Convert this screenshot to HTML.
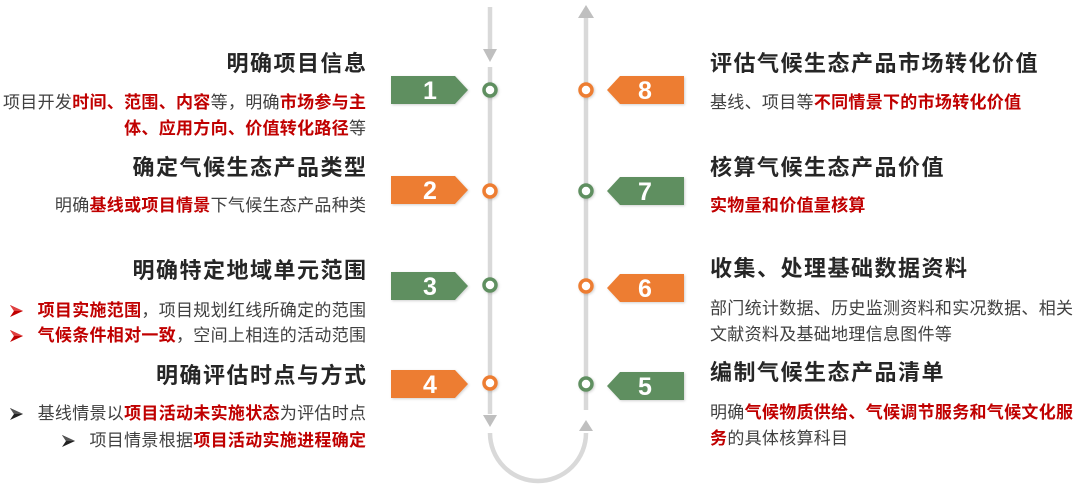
<!DOCTYPE html>
<html><head><meta charset="utf-8">
<style>
html,body{margin:0;padding:0;background:#fff;}
#c{position:relative;width:1080px;height:492px;overflow:hidden;background:#fff;}
svg.bg{position:absolute;left:0;top:0;}
.t{position:absolute;font-family:"Liberation Sans","Noto Sans CJK SC",sans-serif;font-weight:bold;font-size:22px;letter-spacing:1.5px;line-height:30px;color:#262626;white-space:nowrap;}
.d{position:absolute;font-family:"Liberation Sans","Noto Sans CJK SC",sans-serif;font-size:17px;letter-spacing:0.3px;line-height:26px;color:#404040;white-space:nowrap;}
.L{right:712.5px;text-align:right;}
.Ld{right:713.7px;text-align:right;}
.R{left:710px;}
.r{color:#c00000;font-weight:bold;}
.b{display:inline-block;width:13px;height:12px;margin-right:15px;vertical-align:-1px;}
</style></head><body>
<div id="c">
<svg class="bg" width="1080" height="492" viewBox="0 0 1080 492">
  <defs>
    <filter id="sh" x="-20%" y="-30%" width="140%" height="160%">
      <feDropShadow dx="1" dy="1" stdDeviation="1.2" flood-color="#000" flood-opacity="0.18"/>
    </filter>
  </defs>
  <!-- left line -->
  <line x1="490" y1="7" x2="490" y2="50" stroke="#d9d9d9" stroke-width="4.5"/>
  <polygon points="483,49 497,49 490,62" fill="#bfbfbf"/>
  <line x1="490" y1="67" x2="490" y2="414" stroke="#d9d9d9" stroke-width="4.5"/>
  <polygon points="483,415 497,415 490,427" fill="#bfbfbf"/>
  <path d="M490,433 A48,48 0 0 0 586,433" fill="none" stroke="#d9d9d9" stroke-width="4.5"/>
  <!-- right line -->
  <polygon points="578,18 594,18 586,5" fill="#bfbfbf"/>
  <line x1="586" y1="18" x2="586" y2="410" stroke="#d9d9d9" stroke-width="4.5"/>
  <polygon points="579,431 593,431 586,420" fill="#bfbfbf"/>

  <!-- left tags -->
  <g filter="url(#sh)">
    <polygon points="391,76 455,76 468,90 455,104 391,104" fill="#5f8f60"/>
    <polygon points="391,176 455,176 468,190 455,204 391,204" fill="#ed7d31"/>
    <polygon points="391,272 455,272 468,286 455,300 391,300" fill="#5f8f60"/>
    <polygon points="391,370 455,370 468,384 455,398 391,398" fill="#ed7d31"/>
    <!-- right tags -->
    <polygon points="607,90 620,76 684,76 684,104 620,104" fill="#ed7d31"/>
    <polygon points="607,191 620,177 684,177 684,205 620,205" fill="#5f8f60"/>
    <polygon points="607,288 620,274 684,274 684,302 620,302" fill="#ed7d31"/>
    <polygon points="607,386 620,372 684,372 684,400 620,400" fill="#5f8f60"/>
  </g>
  <g font-family="Liberation Sans, sans-serif" font-weight="bold" font-size="25" fill="#fff" text-anchor="middle">
    <text x="430" y="99">1</text>
    <text x="430" y="199">2</text>
    <text x="430" y="295">3</text>
    <text x="430" y="393">4</text>
    <text x="645" y="99">8</text>
    <text x="645" y="200">7</text>
    <text x="645" y="297">6</text>
    <text x="645" y="395">5</text>
  </g>
  <!-- circles -->
  <g fill="#fff" stroke-width="3.5" filter="url(#sh)">
    <circle cx="490" cy="90" r="6" stroke="#5f8f60"/>
    <circle cx="490" cy="191" r="6" stroke="#ed7d31"/>
    <circle cx="490" cy="285" r="6" stroke="#5f8f60"/>
    <circle cx="490" cy="383" r="6" stroke="#ed7d31"/>
    <circle cx="586" cy="90" r="6" stroke="#ed7d31"/>
    <circle cx="586" cy="191" r="6" stroke="#5f8f60"/>
    <circle cx="586" cy="286" r="6" stroke="#ed7d31"/>
    <circle cx="586" cy="384" r="6" stroke="#5f8f60"/>
  </g>
</svg>

<!-- Left side -->
<div class="t L" style="top:49px;">明确项目信息</div>
<div class="d Ld" style="top:89.6px;">项目开发<span class="r">时间、范围、内容</span>等，明确<span class="r">市场参与主</span></div>
<div class="d Ld" style="top:115.6px;"><span class="r">体、应用方向、价值转化路径</span>等</div>

<div class="t L" style="top:153px;">确定气候生态产品类型</div>
<div class="d Ld" style="top:192.6px;">明确<span class="r">基线或项目情景</span>下气候生态产品种类</div>

<div class="t L" style="top:256px;">明确特定地域单元范围</div>
<div class="d Ld" style="top:297.6px;"><svg class="b" viewBox="0 0 13 12"><polygon points="0,0 13,6 0,12 4,6" fill="#c00000"/><polygon points="0,0 13,6 4,6" fill="#e04040"/></svg><span class="r">项目实施范围</span>，项目规划红线所确定的范围</div>
<div class="d Ld" style="top:322.6px;"><svg class="b" viewBox="0 0 13 12"><polygon points="0,0 13,6 0,12 4,6" fill="#c00000"/><polygon points="0,0 13,6 4,6" fill="#e04040"/></svg><span class="r">气候条件相对一致</span>，空间上相连的活动范围</div>

<div class="t L" style="top:361px;">明确评估时点与方式</div>
<div class="d Ld" style="top:400.6px;"><svg class="b" viewBox="0 0 13 12"><polygon points="0,0 13,6 0,12 4,6" fill="#222"/><polygon points="0,0 13,6 4,6" fill="#555"/></svg>基线情景以<span class="r">项目活动未实施状态</span>为评估时点</div>
<div class="d Ld" style="top:427.6px;"><svg class="b" viewBox="0 0 13 12"><polygon points="0,0 13,6 0,12 4,6" fill="#222"/><polygon points="0,0 13,6 4,6" fill="#555"/></svg>项目情景根据<span class="r">项目活动实施进程确定</span></div>

<!-- Right side -->
<div class="t R" style="top:49px;">评估气候生态产品市场转化价值</div>
<div class="d R" style="top:89.6px;">基线、项目等<span class="r">不同情景下的市场转化价值</span></div>

<div class="t R" style="top:153px;">核算气候生态产品价值</div>
<div class="d R" style="top:192.6px;"><span class="r">实物量和价值量核算</span></div>

<div class="t R" style="top:254px;">收集、处理基础数据资料</div>
<div class="d R" style="top:295.6px;">部门统计数据、历史监测资料和实况数据、相关</div>
<div class="d R" style="top:321.6px;">文献资料及基础地理信息图件等</div>

<div class="t R" style="top:358px;">编制气候生态产品清单</div>
<div class="d R" style="top:399.6px;">明确<span class="r">气候物质供给、气候调节服务和气候文化服</span></div>
<div class="d R" style="top:425.6px;"><span class="r">务</span>的具体核算科目</div>
</div>
</body></html>
